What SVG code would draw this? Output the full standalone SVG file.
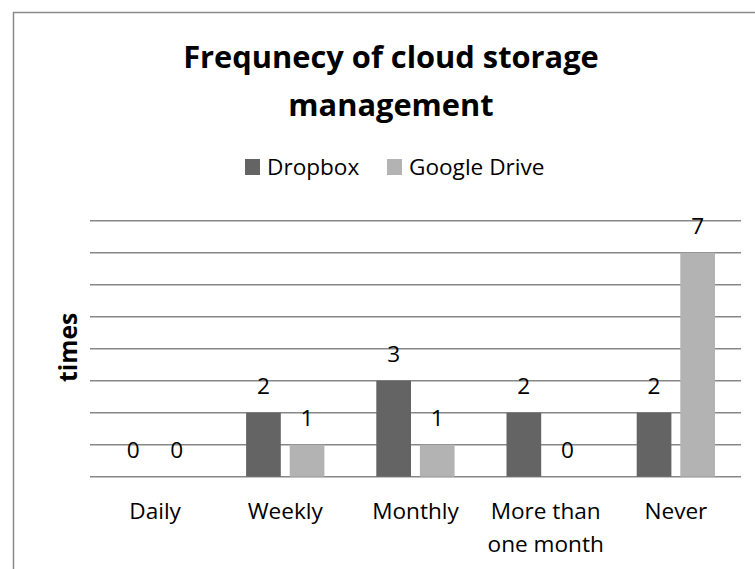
<svg xmlns="http://www.w3.org/2000/svg" width="755" height="569" viewBox="0 0 755 569">
<style>
.t{font-family:"Open Sans","Noto Sans","Liberation Sans",sans-serif;fill:#000;text-anchor:middle}
.r{font-size:22.6px}
.title{font-size:30.8px;font-weight:bold}
.ax{font-size:24.6px;font-weight:bold}
.grid{stroke:#878787;stroke-width:1.5;fill:none}
.db{fill:#646464}
.gd{fill:#b3b3b3}
</style>
<rect width="755" height="569" fill="#fff"/>
<path id="frame" d="M13.5,570 V12.5 H756" fill="none" stroke="#8a8a8a" stroke-width="1.5"/>
<g id="title">
<text class="t title" x="391" y="68">Frequnecy of cloud storage</text>
<text class="t title" x="391" y="116">management</text>
</g>
<g id="legend">
<rect class="db" x="245" y="159" width="15" height="16"/>
<text class="t r" x="267" y="175" style="text-anchor:start">Dropbox</text>
<rect class="gd" x="387" y="159" width="15" height="16"/>
<text class="t r" x="409" y="175" style="text-anchor:start">Google Drive</text>
</g>
<g id="gridlines">
<path class="grid" d="M90,220.7H741M90,252.7H741M90,284.7H741M90,316.7H741M90,348.7H741M90,380.7H741M90,412.7H741M90,444.7H741M90,476.7H741"/>
</g>
<g id="axis-title">
<text class="t ax" transform="translate(76.7,347.4) rotate(-90)" x="0" y="0">times</text>
</g>
<g id="series-dropbox">
<rect class="db" x="246.1" y="412.7" width="34.7" height="64"/>
<rect class="db" x="376.3" y="380.7" width="34.7" height="96"/>
<rect class="db" x="506.5" y="412.7" width="34.7" height="64"/>
<rect class="db" x="636.7" y="412.7" width="34.7" height="64"/>
</g>
<g id="series-google">
<rect class="gd" x="289.7" y="444.7" width="34.7" height="32"/>
<rect class="gd" x="419.9" y="444.7" width="34.7" height="32"/>
<rect class="gd" x="680.3" y="252.7" width="34.7" height="224"/>
</g>
<g id="value-labels">
<text class="t r" x="133.3" y="458.3">0</text>
<text class="t r" x="176.8" y="458.3">0</text>
<text class="t r" x="263.4" y="393.5">2</text>
<text class="t r" x="307" y="426">1</text>
<text class="t r" x="393.6" y="362">3</text>
<text class="t r" x="437.2" y="426">1</text>
<text class="t r" x="523.8" y="393.5">2</text>
<text class="t r" x="567.4" y="458.3">0</text>
<text class="t r" x="654" y="393.5">2</text>
<text class="t r" x="697.6" y="233.5">7</text>
</g>
<g id="category-labels">
<text class="t r" x="155.1" y="519.3">Daily</text>
<text class="t r" x="285.3" y="519.3">Weekly</text>
<text class="t r" x="415.5" y="519.3">Monthly</text>
<text class="t r" x="545.7" y="518.5">More than</text>
<text class="t r" x="545.7" y="551.7">one month</text>
<text class="t r" x="675.9" y="519.3">Never</text>
</g>
</svg>
